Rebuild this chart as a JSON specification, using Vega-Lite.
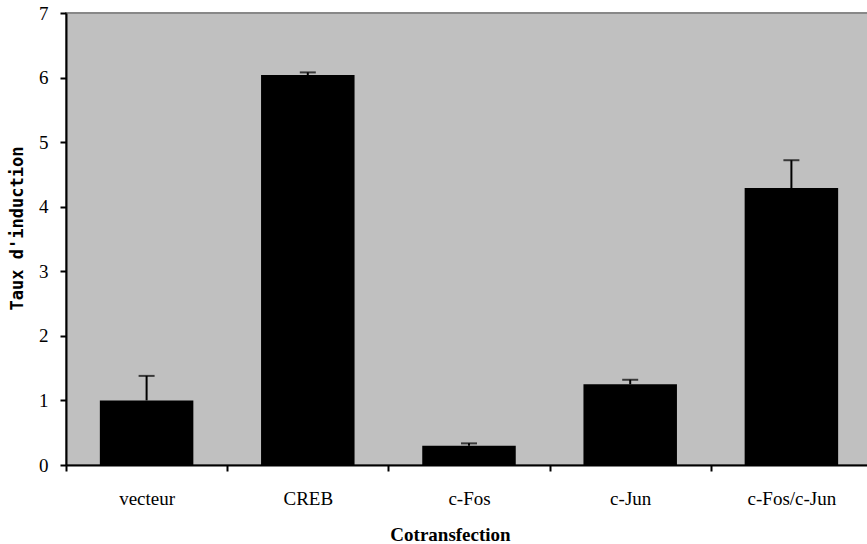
{
  "$schema": "https://vega.github.io/schema/vega-lite/v6.json",
  "autosize": "none",
  "padding": {"left": 66, "top": 13, "right": 0, "bottom": 79},
  "width": 806,
  "height": 452,
  "background": "white",
  "config": {
    "view": {"fill": "#C0C0C0", "stroke": "#888888", "strokeWidth": 2},
    "axis": {"grid": false, "domainColor": "black", "tickColor": "black", "labelColor": "black", "titleColor": "black"}
  },
  "data": {
    "values": [
      {"Cotransfection": "vecteur", "Taux": 1.0, "upper": 1.38},
      {"Cotransfection": "CREB", "Taux": 6.04, "upper": 6.08},
      {"Cotransfection": "c-Fos", "Taux": 0.30, "upper": 0.335},
      {"Cotransfection": "c-Jun", "Taux": 1.25, "upper": 1.32},
      {"Cotransfection": "c-Fos/c-Jun", "Taux": 4.29, "upper": 4.72}
    ]
  },
  "encoding": {
    "x": {
      "field": "Cotransfection",
      "type": "nominal",
      "sort": null,
      "scale": {"paddingInner": 0, "paddingOuter": 0},
      "axis": {
        "title": "Cotransfection",
        "labelAngle": 0,
        "labelFont": "Liberation Serif",
        "labelFontSize": 19,
        "labelPadding": 18,
        "tickBand": "extent",
        "tickSize": 6,
        "tickWidth": 2,
        "domainWidth": 2,
        "titleFont": "Liberation Serif",
        "titleFontWeight": "bold",
        "titleFontSize": 19,
        "titleX": 384,
        "titleY": 75,
        "titleBaseline": "alphabetic",
        "titleAlign": "center",
        "titleAnchor": null
      }
    }
  },
  "layer": [
    {
      "mark": {"type": "bar", "color": "black", "width": {"band": 0.58}},
      "encoding": {
        "y": {
          "field": "Taux",
          "type": "quantitative",
          "scale": {"domain": [0, 7], "nice": false},
          "axis": {
            "title": "Taux d'induction",
            "values": [0, 1, 2, 3, 4, 5, 6, 7],
            "format": "d",
            "labelFont": "Liberation Serif",
            "labelFontSize": 19,
            "labelPadding": 12,
            "tickSize": 6,
            "tickWidth": 2,
            "domainWidth": 2,
            "titleFont": "DejaVu Sans Mono",
            "titleFontWeight": "bold",
            "titleFontSize": 17,
            "titleX": -49,
            "titleY": 215,
            "titleAngle": -90,
            "titleBaseline": "middle",
            "titleAlign": "center",
            "titleAnchor": null
          }
        }
      }
    },
    {
      "mark": {"type": "rule", "color": "black", "strokeWidth": 2},
      "encoding": {
        "y": {"field": "Taux", "type": "quantitative"},
        "y2": {"field": "upper"}
      }
    },
    {
      "mark": {"type": "tick", "color": "black", "size": 16, "thickness": 2},
      "encoding": {
        "y": {"field": "upper", "type": "quantitative"}
      }
    }
  ]
}
